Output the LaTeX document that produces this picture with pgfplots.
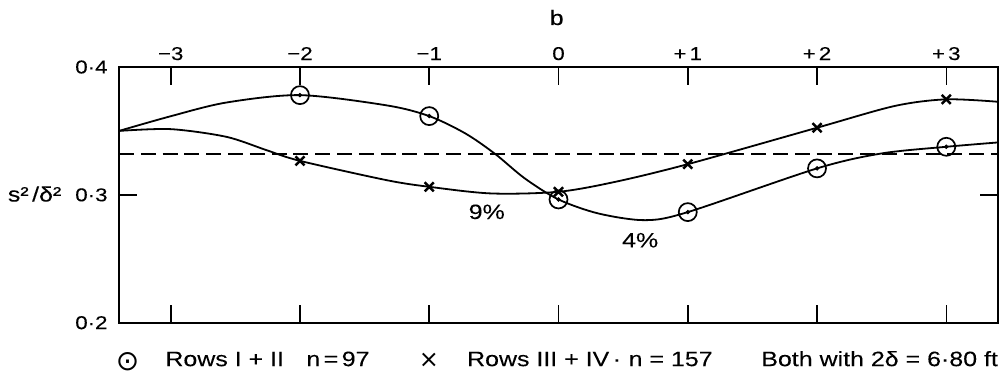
\documentclass[border=0pt]{standalone}
\usepackage{fontspec}
\setmainfont{Liberation Sans}[FakeStretch=1.2, FakeBold=0.12]
\newfontfamily\dejavu{DejaVu Sans}
\usepackage{pgfplots}
\pgfplotsset{compat=1.18}
\begin{document}
\begin{tikzpicture}
\path[use as bounding box] (-59.5pt,-26.15pt) rectangle (442.5pt,161.35pt);
\begin{axis}[
  at={(0,0)}, anchor=south west, scale only axis,
  width=439.5pt, height=127.85pt,
  xmin=-3.4, xmax=3.4, ymin=0.2, ymax=0.4,
  xtick={-3,-2,-1,0,1,2,3},
  xticklabels={−3,−2,−1,0,+\,1,+\,2,+\,3},
  xticklabel pos=upper,
  ytick={0.2,0.3,0.4}, yticklabels={0·2,0·3,0·4},
  tick style={line width=0.8pt, black}, major tick length=8.8pt,
  axis line style={line width=0.85pt},
  ticklabel style={font=\fontsize{9.3}{11}\selectfont},
  xticklabel style={anchor=base, yshift=3.5pt},
  yticklabel style={xshift=-2.2pt},
]
% curves
\addplot[line width=0.9pt, smooth] coordinates {
 (-3.4,0.350) (-3,0.3615) (-2.57,0.3722) (-2,0.378) (-1.33,0.370) (-1,0.3616)
 (-0.72,0.348) (-0.49,0.332) (-0.26,0.3128) (0,0.2964) (0.31,0.2854) (0.67,0.2802)
 (1,0.2865) (2,0.3207) (2.5,0.3324) (3,0.3376) (3.4,0.341)};
\addplot[line width=0.9pt, smooth] coordinates {
 (-3.4,0.350) (-3,0.3514) (-2.57,0.3454) (-2.26,0.335) (-2,0.3266) (-1.33,0.3115)
 (-1,0.3063) (-0.52,0.3011) (0,0.3024) (0.44,0.3102) (1,0.324) (2,0.3525)
 (2.6,0.3695) (3,0.3747) (3.4,0.3728)};
% dashed reference
\addplot[line width=0.8pt, dash pattern=on 7.5pt off 3.4pt] coordinates {(-3.4,0.3319) (3.4,0.3319)};
% circles
\addplot[only marks, mark=o, mark size=4.5pt, mark options={fill=white, line width=0.85pt}] coordinates {
 (-2,0.378) (-1,0.3616) (0,0.2964) (1,0.2865) (2,0.3207) (3,0.3376)};
\addplot[only marks, mark=*, mark size=0.9pt] coordinates {
 (-2,0.378) (-1,0.3616) (0,0.2964) (1,0.2865) (2,0.3207) (3,0.3376)};
% crosses
\addplot[only marks, mark=x, mark size=3.2pt, mark options={line width=1.25pt}] coordinates {
 (-2,0.3266) (-1,0.3063) (0,0.3024) (1,0.324) (2,0.3525) (3,0.3747)};
\node[font=\fontsize{10.4}{12}\selectfont] at (axis cs:-0.555,0.2867) {9\%};
\node[font=\fontsize{10.4}{12}\selectfont] at (axis cs:0.632,0.2645) {4\%};
\end{axis}
\begin{scope}[every node/.style={inner sep=0pt, font=\fontsize{10.4}{12}\selectfont}]
\node[anchor=base] at (218.85pt,148.85pt) {b};
\node[anchor=base east] at (-28.65pt,60.6pt) {s²\,/δ²};
\node[anchor=base, font=\dejavu\fontsize{14}{16}\selectfont] at (4.25pt,-23.9pt) {⊙};
\node[anchor=base west] at (23pt,-21.7pt) {Rows I + II};
\node[anchor=base west] at (93.5pt,-21.7pt) {n\,=\,97};
\node[anchor=base, font=\dejavu\fontsize{12}{14}\selectfont] at (155pt,-22.5pt) {×};
\node[anchor=base west] at (173.85pt,-21.7pt) {Rows III + IV\,·};
\node[anchor=base west] at (254.65pt,-21.7pt) {n = 157};
\node[anchor=base east] at (439.65pt,-21.7pt) {Both with 2δ = 6·80 ft};
\end{scope}
\end{tikzpicture}
\end{document}
